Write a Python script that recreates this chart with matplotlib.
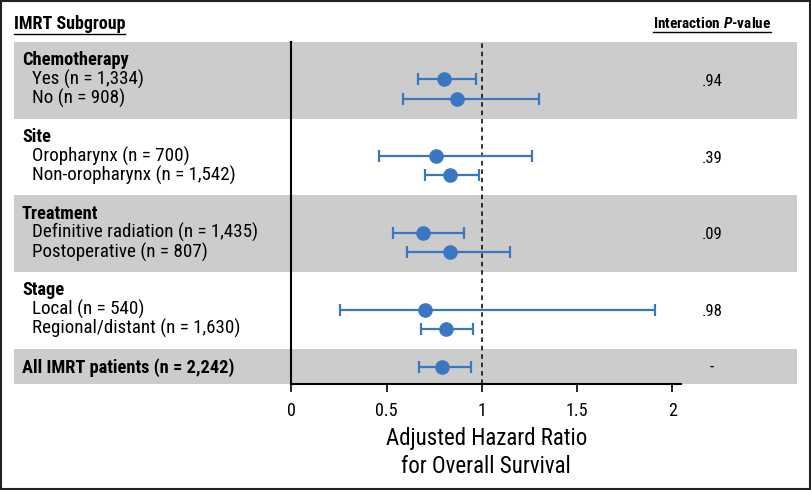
import matplotlib
matplotlib.use("Agg")
import matplotlib.pyplot as plt
from matplotlib.patches import Rectangle
from matplotlib.lines import Line2D
from matplotlib import transforms

# ---------------- data ----------------
groups = ["Chemotherapy", "Site", "Treatment", "Stage"]
sub_labels = [
    ["Yes (n = 1,334)", "No (n = 908)"],
    ["Oropharynx (n = 700)", "Non-oropharynx (n = 1,542)"],
    ["Definitive radiation (n = 1,435)", "Postoperative (n = 807)"],
    ["Local (n = 540)", "Regional/distant (n = 1,630)"],
]
hr = [[0.80, 0.87], [0.76, 0.83], [0.69, 0.83], [0.70, 0.81]]
ci_low = [[0.665, 0.585], [0.46, 0.70], [0.534, 0.606], [0.257, 0.68]]
ci_high = [[0.968, 1.30], [1.262, 0.986], [0.904, 1.145], [1.91, 0.955]]
p_values = [".94", ".39", ".09", ".98"]

overall_label = "All IMRT patients (n = 2,242)"
overall_hr = 0.79
overall_low = 0.67
overall_high = 0.94
overall_p = "-"

xticks = [0, 0.5, 1, 1.5, 2]
xtick_labels = ["0", "0.5", "1", "1.5", "2"]

# ---------------- style ----------------
FONT = "Roboto Condensed"
plt.rcParams["font.family"] = [FONT, "DejaVu Sans"]
plt.rcParams["mathtext.fontset"] = "custom"
plt.rcParams["mathtext.rm"] = FONT
plt.rcParams["mathtext.it"] = FONT + ":italic:bold"
plt.rcParams["mathtext.bf"] = FONT + ":bold"

BLUE = "#3a77c2"
GRAY = "#cccccc"

W, H = 812, 490
fig = plt.figure(figsize=(W / 100, H / 100), dpi=100)
fig.patch.set_facecolor("white")

def fx(px):
    return px / W

def fy(py):
    return 1 - py / H

ax_left, ax_right = 291.5, 681.0
ax_top, ax_bot = 42.0, 384.0
ax = fig.add_axes([fx(ax_left), fy(ax_bot), fx(ax_right - ax_left), (ax_bot - ax_top) / H])
ax.set_facecolor("none")

# row slots
slots_hdr = []
slots_sub = []
s = 0
for g in groups:
    slots_hdr.append(s)
    slots_sub.append([s + 1, s + 2])
    s += 4
overall_slot = s

y_top_lim = -0.95
y_bot_lim = 16.88
ax.set_ylim(y_bot_lim, y_top_lim)
ax.set_xlim(0, 2.045)

blend = transforms.blended_transform_factory(fig.transFigure, ax.transData)

# bands
band_tops = [h - 0.95 for h in slots_hdr] + [overall_slot - 0.95]
band_bots = band_tops[1:] + [y_bot_lim]
for i, (t, b) in enumerate(zip(band_tops, band_bots)):
    color = GRAY if i % 2 == 0 else "white"
    ax.add_patch(Rectangle((fx(14), t), fx(797 - 14), b - t, transform=blend,
                           facecolor=color, edgecolor="none", clip_on=False, zorder=0))

# reference line
ax.axvline(1.0, color="black", lw=1.1, ls=(0, (3, 2.5)), zorder=1)

# error bars
fs_row = 13.7
fs_bold = 13.2
for gi, g in enumerate(groups):
    ax.text(fx(22), slots_hdr[gi], g, transform=blend, fontsize=fs_bold,
            fontweight="bold", va="center", ha="left")
    for si in range(2):
        y = slots_sub[gi][si]
        ax.errorbar(hr[gi][si], y,
                    xerr=[[hr[gi][si] - ci_low[gi][si]], [ci_high[gi][si] - hr[gi][si]]],
                    fmt="o", color=BLUE, ms=9.5, elinewidth=1.6, capsize=4.5,
                    capthick=1.6, zorder=3)
        ax.text(fx(32), y, sub_labels[gi][si], transform=blend, fontsize=fs_row,
                va="center", ha="left")
    ax.text(fx(712), slots_sub[gi][0] + 0.1, p_values[gi], transform=blend,
            fontsize=12, va="center", ha="center")

ax.errorbar(overall_hr, overall_slot,
            xerr=[[overall_hr - overall_low], [overall_high - overall_hr]],
            fmt="o", color=BLUE, ms=9.5, elinewidth=1.6, capsize=4.5,
            capthick=1.6, zorder=3)
ax.text(fx(22), overall_slot, overall_label, transform=blend, fontsize=fs_bold,
        fontweight="bold", va="center", ha="left")
ax.text(fx(712), overall_slot, overall_p, transform=blend, fontsize=12,
        va="center", ha="center")

# spines / ticks
for side in ["top", "right"]:
    ax.spines[side].set_visible(False)
ax.spines["left"].set_linewidth(1.5)
ax.spines["bottom"].set_linewidth(1.5)
ax.set_yticks([])
ax.set_xticks(xticks)
ax.set_xticklabels(xtick_labels, fontsize=13)
ax.tick_params(axis="x", direction="out", length=6, width=1.2, pad=7)
ax.set_xlabel("Adjusted Hazard Ratio\nfor Overall Survival", fontsize=16.5,
              labelpad=5, linespacing=1.3)

# headers with underline
t1 = fig.text(fx(14), fy(24), "IMRT Subgroup", fontsize=13, fontweight="bold",
              ha="left", va="center")
t2 = fig.text(fx(712), fy(24), r"Interaction $\mathit{P}$-value", fontsize=11,
              fontweight="bold", ha="center", va="center")
fig.canvas.draw()
r = fig.canvas.get_renderer()
for t in (t1, t2):
    bb = t.get_window_extent(renderer=r)
    yline = bb.y0 - 1.0
    fig.add_artist(Line2D([bb.x0 / W, bb.x1 / W], [yline / H, yline / H],
                          transform=fig.transFigure, color="black", lw=1.0))

# outer border
fig.add_artist(Rectangle((1.5 / W, 1.5 / H), (W - 3) / W, (H - 3) / H,
                         transform=fig.transFigure, fill=False, edgecolor="#222222",
                         lw=1.5))

fig.savefig("out.png", dpi=100, facecolor="white")
